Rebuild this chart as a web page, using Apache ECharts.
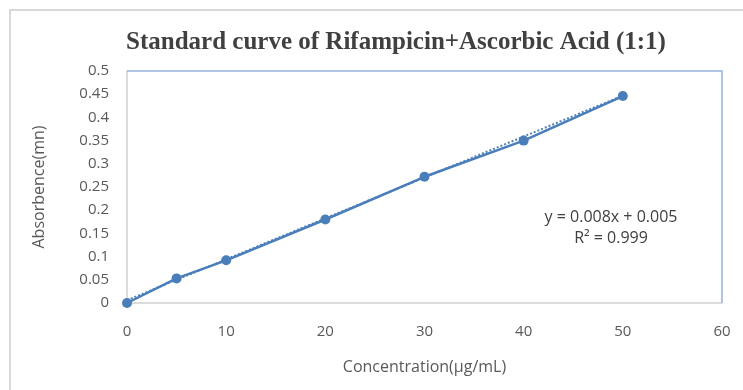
<!DOCTYPE html>
<html>
<head>
<meta charset="utf-8">
<script src="https://cdn.jsdelivr.net/npm/echarts@6/dist/echarts.min.js"></script>
<style>
  html, body { margin: 0; padding: 0; background: #fff; }
  #chart { width: 743px; height: 390px; }
</style>
</head>
<body>
<div id="chart"></div>
<script>
// concentration (µg/mL) and measured absorbance
const concentration = [0, 5, 10, 20, 30, 40, 50];
const absorbance = [0, 0.053, 0.092, 0.18, 0.272, 0.35, 0.446];
// linear trendline as drawn (end points)
const trendX = [0, 50];
const trendY = [0.006, 0.447];
const equationLines = ["y = 0.008x + 0.005", "R\u00b2 = 0.999"];

const points = concentration.map((x, i) => [x, absorbance[i]]);
const trend = trendX.map((x, i) => [x, trendY[i]]);

const labelFont = "'Open Sans', Lato, sans-serif";

const chart = echarts.init(document.getElementById("chart"));
chart.setOption({
  animation: false,
  backgroundColor: "#fff",
  title: {
    text: "Standard curve of Rifampicin+Ascorbic Acid (1:1)",
    left: 391,
    top: 25,
    textAlign: "center",
    textStyle: {
      fontFamily: "'Liberation Serif', serif",
      fontWeight: "bold",
      fontSize: 25,
      color: "#404040",
    },
  },
  grid: { left: 127, right: 21, top: 71, bottom: 87 },
  xAxis: {
    type: "value",
    min: 0,
    max: 60,
    interval: 10,
    name: "Concentration(\u03bcg/mL)",
    nameLocation: "middle",
    nameGap: 56,
    nameTextStyle: { fontFamily: labelFont, fontSize: 16, color: "#595959" },
    axisLine: { show: true, lineStyle: { color: "#d0d0d0", width: 1.5 } },
    axisTick: { show: false },
    axisLabel: { margin: 21, fontFamily: labelFont, fontSize: 15, color: "#595959" },
    splitLine: { show: false },
  },
  yAxis: {
    type: "value",
    min: 0,
    max: 0.5,
    interval: 0.05,
    name: "Absorbence(mn)",
    nameLocation: "middle",
    nameGap: 80,
    nameTextStyle: { fontFamily: labelFont, fontSize: 16, color: "#595959" },
    axisLine: { show: true, lineStyle: { color: "#d0d0d0", width: 1.5 } },
    axisTick: { show: false },
    axisLabel: { margin: 18, fontFamily: labelFont, fontSize: 15, color: "#595959" },
    splitLine: { show: false },
  },
  graphic: [
    {
      type: "rect",
      silent: true,
      shape: { x: 10, y: 10, width: 760, height: 400 },
      style: { fill: null, stroke: "#d9d9d9", lineWidth: 2 },
      z: 0,
    },
    {
      type: "polyline",
      silent: true,
      shape: { points: [[127, 71], [722, 71], [722, 303]] },
      style: { fill: null, stroke: "#95b3d7", lineWidth: 1.5 },
      z: 1,
    },
    {
      type: "text",
      x: 611,
      y: 207,
      style: {
        text: equationLines.join("\n"),
        fontFamily: labelFont,
        fontSize: 16,
        lineHeight: 21,
        fill: "#404040",
        align: "center",
      },
    },
  ],
  series: [
    {
      type: "line",
      data: trend,
      showSymbol: false,
      lineStyle: { color: "#4f81bd", width: 2, type: "dotted" },
      z: 2,
    },
    {
      type: "line",
      data: points,
      symbol: "circle",
      symbolSize: 10,
      itemStyle: { color: "#4a7ebb" },
      lineStyle: { color: "#4a7ebb", width: 2.5 },
      z: 3,
    },
  ],
});
</script>
</body>
</html>
